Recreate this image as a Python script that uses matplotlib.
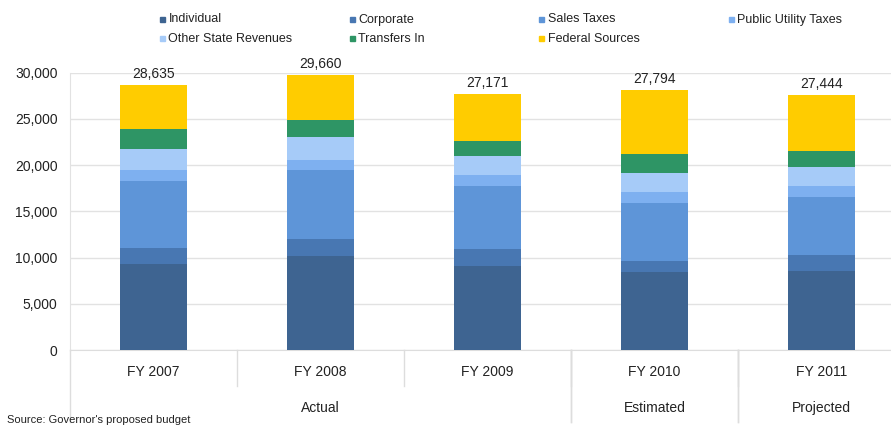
import matplotlib
matplotlib.use("Agg")
import matplotlib.pyplot as plt
from matplotlib.patches import Rectangle
from matplotlib.transforms import blended_transform_factory
import numpy as np

plt.rcParams["font.family"] = ["Liberation Sans", "DejaVu Sans"]

years = ["FY 2007", "FY 2008", "FY 2009", "FY 2010", "FY 2011"]
groups = [("Actual", 0, 2), ("Estimated", 3, 3), ("Projected", 4, 4)]

individual = [9350, 10200, 9100, 8420, 8560]
corporate = [1690, 1850, 1765, 1220, 1690]
sales_taxes = [7270, 7370, 6835, 6300, 6295]
public_utility = [1110, 1110, 1185, 1150, 1225]
other_state = [2350, 2450, 2120, 2050, 1980]
transfers_in = [2150, 1910, 1620, 2090, 1725]
federal = [4710, 4855, 5035, 6830, 6045]
totals = [28635, 29660, 27171, 27794, 27444]

series_names = ["Individual", "Corporate", "Sales Taxes", "Public Utility Taxes",
                "Other State Revenues", "Transfers In", "Federal Sources"]
series_values = [individual, corporate, sales_taxes, public_utility,
                 other_state, transfers_in, federal]
colors = ["#3E6491", "#4877B2", "#5E95D8", "#7EB0F0", "#A6CBF8", "#2E9565", "#FFCC00"]

W, H = 891, 428
fig = plt.figure(figsize=(W / 100, H / 100), dpi=100)
ax = fig.add_axes([70 / W, (H - 350) / H, 835 / W, 277.5 / H])

x = np.arange(len(years))
bottom = np.zeros(len(years))
for vals, col in zip(series_values, colors):
    ax.bar(x, vals, 0.4, bottom=bottom, color=col, zorder=3)
    bottom += np.array(vals)

# total labels above each bar
for xi, top, tot in zip(x, bottom, totals):
    ax.annotate(f"{tot:,}", (xi, top), xytext=(0, 8), textcoords="offset points",
                ha="center", va="center", fontsize=10, color="#222222")

ax.set_xlim(-0.5, len(years) - 0.5)
ax.set_ylim(0, 30000)
ax.set_yticks(np.arange(0, 30001, 5000))
ax.set_yticklabels([f"{v:,}" for v in range(0, 30001, 5000)], fontsize=10, color="#222222")
ax.tick_params(axis="y", length=0, pad=9)
ax.grid(axis="y", color="#E2E2E2", linewidth=1, zorder=0)
for s in ["top", "right"]:
    ax.spines[s].set_visible(False)
ax.spines["left"].set_color("#E2E2E2")
ax.spines["bottom"].set_color("#DDDDDD")

ax.set_xticks([])
tr = blended_transform_factory(ax.transData, ax.transAxes)
for xi, lab in zip(x, years):
    ax.text(xi, -0.078, lab, transform=tr, ha="center", va="center", fontsize=10, color="#222222")

# category separators
for xi in x[:-1] + 0.5:
    ax.plot([xi, xi], [0, -0.13], transform=tr, color="#DDDDDD", lw=1, clip_on=False)
for name, a, b in groups:
    ax.text((a + b) / 2, -0.209, name, transform=tr, ha="center", va="center",
            fontsize=10, color="#222222")
    for edge in (a - 0.5, b + 0.5):
        ax.plot([edge, edge], [0, -0.26], transform=tr, color="#DDDDDD", lw=1, clip_on=False)

# legend, 4 per row
for i, (name, col) in enumerate(zip(series_names, colors)):
    r, c = divmod(i, 4)
    lx = 160 + c * 189.5
    ly = 19.5 + r * 19
    fig.add_artist(Rectangle((lx / W, (H - ly - 2.5) / H), 5 / W, 5 / H,
                             transform=fig.transFigure, color=col))
    fig.text((lx + 8.5) / W, (H - ly) / H, name, ha="left", va="center",
             fontsize=9, color="#222222")

fig.text(7 / W, (H - 420) / H, "Source: Governor's proposed budget", ha="left", va="center",
         fontsize=8, color="#222222")

fig.savefig("out.png", dpi=100)
